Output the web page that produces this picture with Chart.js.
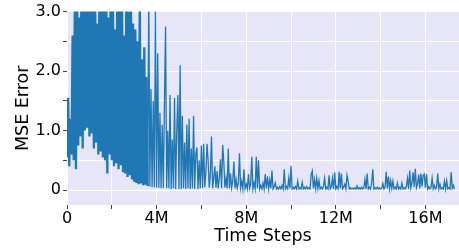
<!DOCTYPE html>
<html>
<head>
<meta charset="utf-8">
<script src="https://cdn.jsdelivr.net/npm/chart.js@4/dist/chart.umd.min.js"></script>
<style>
  html, body { margin: 0; padding: 0; background: #ffffff; }
  #wrap { width: 459px; height: 250px; }
</style>
</head>
<body>
<div id="wrap"><canvas id="mseChart" width="459" height="250"></canvas></div>
<script>
const stepInterval = 50000;
const mseError = [
  0.55, 1.55, 0.4, 1.2, 0.6, 2.6, 0.5, 3.2, 0.35, 3.6, 0.75, 2.9, 0.9, 3.8, 0.7, 3.3, 1.0, 4.0, 1.05, 3.5,
  0.9, 3.4, 0.95, 3.1, 0.7, 3.7, 0.8, 2.8, 0.6, 3.5, 0.65, 3.9, 0.55, 3.2, 0.5, 3.6, 0.28, 2.9, 0.6, 3.4,
  0.5, 3.3, 0.4, 2.7, 0.45, 3.6, 0.35, 3.1, 0.42, 3.8, 0.3, 2.6, 0.28, 3.4, 0.22, 3.0, 0.25, 3.5, 0.18, 2.8,
  0.14, 2.7, 0.12, 2.5, 0.1, 3.2, 0.11, 2.2, 0.08, 2.4, 0.09, 1.9, 0.07, 3.3, 0.06, 1.7, 0.05, 1.5, 0.05, 3.1,
  0.04, 2.3, 0.04, 1.3, 0.03, 1.1, 0.03, 1.45, 2.75, 0.03, 1.0, 0.03, 1.6, 0.02, 0.85, 0.03, 1.55, 0.02, 1.0, 1.6,
  0.02, 2.1, 0.02, 1.25, 0.03, 0.8, 0.02, 1.1, 0.03, 1.2, 0.02, 0.7, 0.03, 1.25, 0.02, 0.6, 0.72, 0.02, 0.5, 0.03,
  0.75, 0.03, 0.78, 0.05, 0.3, 0.78, 0.5, 0.04, 0.25, 0.9, 0.03, 0.2, 0.4, 0.04, 0.32, 0.03, 0.2, 0.52, 0.03, 0.76,
  0.48, 0.04, 0.2, 0.03, 0.7, 0.03, 0.28, 0.04, 0.15, 0.48, 0.03, 0.18, 0.03, 0.12, 0.62, 0.04, 0.15, 0.02, 0.35, 0.03,
  0.1, 0.02, 0.27, 0.03, 0.1, 0.56, 0.02, 0.12, 0.02, 0.56, 0.03, 0.5, 0.02, 0.08, 0.02, 0.12, 0.02, 0.27, 0.03, 0.23,
  0.02, 0.17, 0.03, 0.33, 0.02, 0.06, 0.12, 0.02, 0.05, 0.02, 0.06, 0.02, 0.08, 0.02, 0.35, 0.02, 0.06, 0.02, 0.2, 0.03,
  0.41, 0.02, 0.05, 0.02, 0.06, 0.02, 0.15, 0.02, 0.04, 0.02, 0.13, 0.02, 0.05, 0.02, 0.06, 0.02, 0.04, 0.02, 0.26, 0.32,
  0.03, 0.18, 0.02, 0.2, 0.03, 0.16, 0.02, 0.05, 0.02, 0.06, 0.2, 0.02, 0.05, 0.02, 0.25, 0.02, 0.05, 0.2, 0.02, 0.3,
  0.02, 0.06, 0.02, 0.31, 0.03, 0.28, 0.02, 0.05, 0.1, 0.02, 0.25, 0.15, 0.02, 0.04, 0.02, 0.03, 0.02, 0.04, 0.02, 0.07,
  0.02, 0.04, 0.02, 0.05, 0.02, 0.03, 0.18, 0.02, 0.28, 0.02, 0.05, 0.02, 0.12, 0.35, 0.02, 0.04, 0.02, 0.05, 0.02, 0.04,
  0.02, 0.03, 0.11, 0.02, 0.05, 0.31, 0.03, 0.23, 0.02, 0.16, 0.03, 0.15, 0.02, 0.05, 0.02, 0.12, 0.02, 0.05, 0.02, 0.12,
  0.02, 0.04, 0.02, 0.06, 0.2, 0.02, 0.33, 0.04, 0.12, 0.3, 0.05, 0.36, 0.04, 0.1, 0.26, 0.03, 0.28, 0.06, 0.25, 0.27,
  0.04, 0.27, 0.02, 0.06, 0.02, 0.04, 0.2, 0.02, 0.08, 0.02, 0.05, 0.28, 0.02, 0.1, 0.02, 0.04, 0.02, 0.15, 0.02, 0.16,
  0.02, 0.04, 0.02, 0.3, 0.03, 0.08, 0.02
];
const timeSteps = mseError.map((_, i) => i * stepInterval);

// tick positions and their labels ('' = tick mark only)
const xTickValues = [0, 2000000, 4000000, 6000000, 8000000, 10000000, 12000000, 14000000, 16000000];
const xTickLabels = ['0', '', '4M', '', '8M', '', '12M', '', '16M'];
const yTickValues = [0, 0.5, 1.0, 1.5, 2.0, 2.5, 3.0];
const yTickLabels = ['0', '', '1.0', '', '2.0', '', '3.0'];

const points = mseError.map((v, i) => ({ x: timeSteps[i], y: v }));

const plotBackground = {
  id: 'plotBackground',
  beforeDraw(chart) {
    const { ctx, chartArea } = chart;
    ctx.save();
    ctx.fillStyle = '#e6e6f8';
    ctx.fillRect(chartArea.left, chartArea.top, chartArea.right - chartArea.left, chartArea.bottom - chartArea.top);
    ctx.restore();
  }
};

Chart.defaults.font.family = "'DejaVu Sans', sans-serif";
Chart.defaults.color = '#000000';

new Chart(document.getElementById('mseChart'), {
  type: 'line',
  data: {
    datasets: [{
      data: points,
      borderColor: '#1f77b4',
      borderWidth: 1.3,
      pointRadius: 0,
      tension: 0,
      fill: false,
      // the early, very noisy stretch reads as a solid band
      segment: {
        borderWidth: (c) => (c.p0.parsed.x < 3600000 ? 2.3 : 1.3)
      }
    }]
  },
  options: {
    responsive: false,
    devicePixelRatio: 1,
    animation: false,
    layout: { padding: { top: 8, right: 0, left: 0, bottom: 0 } },
    plugins: { legend: { display: false }, tooltip: { enabled: false } },
    scales: {
      x: {
        type: 'linear',
        min: 0,
        max: 17500000,
        border: { display: false },
        grid: { color: '#ffffff', lineWidth: 1, tickLength: 4, tickColor: '#444444', tickWidth: 1 },
        afterBuildTicks(scale) { scale.ticks = xTickValues.map(v => ({ value: v })); },
        ticks: {
          maxRotation: 0,
          autoSkip: false,
          padding: 0,
          font: { size: 16 },
          callback: (v) => xTickLabels[xTickValues.indexOf(v)] ?? ''
        },
        title: { display: true, text: 'Time Steps', font: { size: 17.5 }, padding: 3 },
        afterFit(scale) {
          scale.height = 45;
          scale.paddingLeft = 0;
          scale.paddingRight = 0;
        }
      },
      y: {
        min: -0.25,
        max: 3.0,
        border: { display: false },
        grid: { color: '#ffffff', lineWidth: 1, tickLength: 4, tickColor: '#444444', tickWidth: 1 },
        afterBuildTicks(scale) { scale.ticks = yTickValues.map(v => ({ value: v })); },
        ticks: {
          autoSkip: false,
          padding: 2,
          font: { size: 16 },
          callback: (v) => yTickLabels[yTickValues.indexOf(v)] ?? ''
        },
        title: { display: true, text: 'MSE Error', font: { size: 17.5 }, padding: 12.5 },
        afterFit(scale) { scale.width = 67; }
      }
    }
  },
  plugins: [plotBackground]
});
</script>
</body>
</html>
